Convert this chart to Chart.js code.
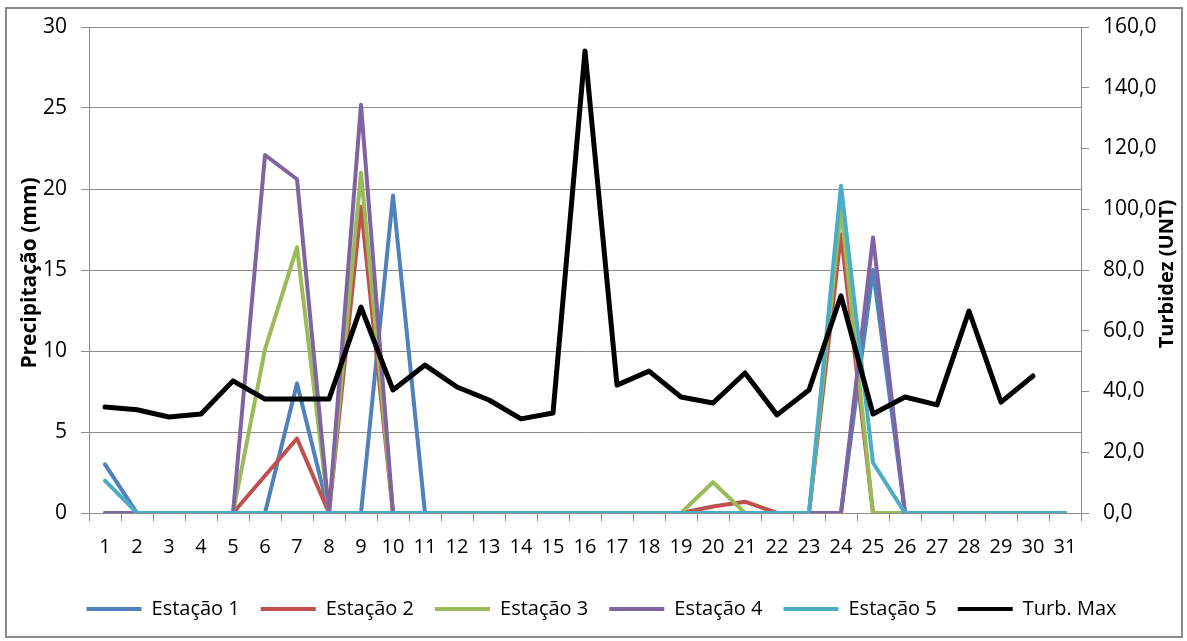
<!DOCTYPE html>
<html lang="pt">
<head>
<meta charset="utf-8">
<title>Precipitação e Turbidez</title>
<script src="https://cdn.jsdelivr.net/npm/chart.js@4/dist/chart.umd.min.js"></script>
<style>
  html, body { margin: 0; padding: 0; background: #fff; }
  #wrap { position: relative; width: 1187px; height: 641px; }
</style>
</head>
<body>
<div id="wrap"><canvas id="chart" width="1187" height="641"></canvas></div>
<script>
// Dias do mês
const dias = ['1','2','3','4','5','6','7','8','9','10','11','12','13','14','15','16',
              '17','18','19','20','21','22','23','24','25','26','27','28','29','30','31'];

// Precipitação diária (mm) por estação
const estacao1 = [3.0, 0, 0, 0, 0, 0, 8.0, 0, 0, 19.6, 0, 0, 0, 0, 0, 0,
                  0, 0, 0, 0, 0, 0, 0, 0, 15.0, 0, 0, 0, 0, 0, 0];
const estacao2 = [0, 0, 0, 0, 0, 2.3, 4.6, 0, 18.9, 0, 0, 0, 0, 0, 0, 0,
                  0, 0, 0, 0.4, 0.7, 0, 0, 17.2, 0, 0, 0, 0, 0, 0, 0];
const estacao3 = [0, 0, 0, 0, 0, 10.1, 16.4, 0, 21.0, 0, 0, 0, 0, 0, 0, 0,
                  0, 0, 0, 1.9, 0, 0, 0, 18.8, 0, 0, 0, 0, 0, 0, 0];
const estacao4 = [0, 0, 0, 0, 0, 22.1, 20.6, 0, 25.2, 0, 0, 0, 0, 0, 0, 0,
                  0, 0, 0, 0, 0, 0, 0, 0, 17.0, 0, 0, 0, 0, 0, 0];
const estacao5 = [2.0, 0, 0, 0, 0, 0, 0, 0, 0, 0, 0, 0, 0, 0, 0, 0,
                  0, 0, 0, 0, 0, 0, 0, 20.2, 3.1, 0, 0, 0, 0, 0, 0];

// Turbidez máxima diária (UNT)
const turbMax = [34.9, 34.0, 31.6, 32.6, 43.5, 37.5, 37.5, 37.5, 67.8, 40.5, 48.7, 41.5, 37.2, 31.0, 32.9, 152.1,
                 42.1, 46.7, 38.2, 36.2, 46.1, 32.3, 40.5, 71.5, 32.6, 38.2, 35.6, 66.5, 36.5, 45.1, null];

// Escalas
const precipTicks = { min: 0, max: 30, step: 5 };
const turbTicks = { min: 0, max: 160, step: 20 };

const tituloPrecip = 'Precipitação (mm)';
const tituloTurb = 'Turbidez (UNT)';

const FONT = '"Open Sans", "DejaVu Sans", sans-serif';
const GRID = '#8c8c8c';

function serie(label, data, color, width, axis) {
  return {
    label, data,
    borderColor: color, backgroundColor: color,
    borderWidth: width, pointRadius: 0, pointHoverRadius: 0,
    tension: 0, fill: false, spanGaps: false,
    borderJoinStyle: 'round', borderCapStyle: 'round',
    yAxisID: axis, clip: 0
  };
}

// Moldura e títulos dos eixos (lidos de baixo para cima)
const moldura = {
  id: 'moldura',
  beforeDraw(chart) {
    const ctx = chart.ctx;
    ctx.save();
    ctx.fillStyle = '#fff';
    ctx.fillRect(0, 0, chart.width, chart.height);
    ctx.restore();
  },
  afterDraw(chart) {
    const ctx = chart.ctx;
    ctx.save();
    ctx.strokeStyle = '#8a8a8a';
    ctx.lineWidth = 2;
    ctx.strokeRect(6, 8, 1176, 629);
    ctx.fillStyle = '#000';
    ctx.textAlign = 'center';
    ctx.textBaseline = 'middle';
    ctx.font = 'bold 21px ' + FONT;
    ctx.translate(30, 273);
    ctx.rotate(-Math.PI / 2);
    ctx.fillText(tituloPrecip, 0, 0);
    ctx.restore();
    ctx.save();
    ctx.fillStyle = '#000';
    ctx.textAlign = 'center';
    ctx.textBaseline = 'middle';
    ctx.font = 'bold 20px ' + FONT;
    ctx.translate(1167, 274);
    ctx.rotate(-Math.PI / 2);
    ctx.fillText(tituloTurb, 0, 0);
    ctx.restore();
  }
};

new Chart(document.getElementById('chart'), {
  type: 'line',
  data: {
    labels: dias,
    // a última série fica por cima no desenho
    datasets: [
      serie('Turb. Max', turbMax, '#000000', 5, 'y1'),
      serie('Estação 5', estacao5, '#4BACC6', 4, 'y'),
      serie('Estação 4', estacao4, '#8064A2', 4, 'y'),
      serie('Estação 3', estacao3, '#9BBB59', 4, 'y'),
      serie('Estação 2', estacao2, '#C0504D', 4, 'y'),
      serie('Estação 1', estacao1, '#4F81BD', 4, 'y')
    ]
  },
  options: {
    responsive: false,
    animation: false,
    events: [],
    layout: { padding: { top: 27, bottom: 12, left: 16, right: 0 } },
    plugins: {
      tooltip: { enabled: false },
      legend: {
        position: 'bottom',
        reverse: true,
        labels: {
          boxWidth: 55,
          boxHeight: 4,
          padding: 21,
          color: '#000',
          font: { family: FONT, size: 20 },
          generateLabels(chart) {
            const items = Chart.defaults.plugins.legend.labels.generateLabels(chart);
            return items.map(it => Object.assign(it, { lineWidth: 0, strokeStyle: 'rgba(0,0,0,0)' }));
          }
        }
      }
    },
    scales: {
      x: {
        offset: true,
        grid: { drawOnChartArea: false, offset: true, tickLength: 8, color: GRID },
        border: { display: true, color: GRID, width: 1 },
        ticks: { color: '#000', font: { family: FONT, size: 20 }, padding: 14, maxRotation: 0, autoSkip: false },
        afterFit(s) { s.height = 65; }
      },
      y: {
        position: 'left',
        min: precipTicks.min, max: precipTicks.max,
        grid: { color: GRID, tickLength: 8, lineWidth: 1 },
        border: { display: true, color: GRID, width: 1 },
        ticks: { stepSize: precipTicks.step, color: '#000', font: { family: FONT, size: 21 }, padding: 14 },
        afterFit(s) { s.width = 73; }
      },
      y1: {
        position: 'right',
        min: turbTicks.min, max: turbTicks.max,
        grid: { drawOnChartArea: false, color: GRID, tickLength: 8 },
        border: { display: true, color: GRID, width: 1 },
        ticks: {
          stepSize: turbTicks.step, color: '#000', font: { family: FONT, size: 21 }, padding: 14,
          callback: v => v.toFixed(1).replace('.', ',')
        },
        afterFit(s) { s.width = 106; }
      }
    }
  },
  plugins: [moldura]
});
</script>
</body>
</html>
